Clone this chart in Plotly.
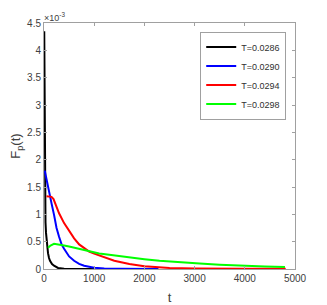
import plotly.graph_objects as go

# Data (values in units of 1e-3)
t_black = [5, 10, 15, 20, 25, 30, 40, 50, 60, 80, 100, 120, 160, 200, 280, 400, 600, 800, 1000]
v_black = [4.35, 3.3, 2.2, 1.5, 1.0, 0.85, 0.66, 0.52, 0.42, 0.29, 0.2, 0.15, 0.09, 0.06, 0.02, 0.006, 0.001, 0.0, 0.0]

t_blue = [15, 50, 100, 150, 200, 250, 300, 350, 400, 500, 600, 700, 800, 900, 1000, 1200, 1500, 2280]
v_blue = [1.80, 1.66, 1.42, 1.2, 0.99, 0.75, 0.59, 0.45, 0.37, 0.23, 0.15, 0.095, 0.06, 0.035, 0.022, 0.01, 0.003, 0.0]

t_red = [50, 100, 150, 190, 250, 300, 400, 500, 600, 700, 800, 900, 1000, 1200, 1400, 1700, 2000, 2500, 3000, 4000, 4815]
v_red = [1.33, 1.33, 1.32, 1.28, 1.13, 1.02, 0.84, 0.69, 0.56, 0.45, 0.38, 0.32, 0.28, 0.21, 0.15, 0.09, 0.05, 0.02, 0.01, 0.005, 0.003]

t_green = [80, 130, 200, 300, 400, 500, 700, 900, 1100, 1300, 1600, 2000, 2300, 2700, 3100, 3500, 4000, 4400, 4800]
v_green = [0.39, 0.43, 0.46, 0.45, 0.43, 0.41, 0.37, 0.32, 0.285, 0.26, 0.22, 0.18, 0.15, 0.12, 0.10, 0.08, 0.057, 0.045, 0.037]

series = [
    ("T=0.0286", t_black, v_black, "#000000"),
    ("T=0.0290", t_blue, v_blue, "#0000ff"),
    ("T=0.0294", t_red, v_red, "#ff0000"),
    ("T=0.0298", t_green, v_green, "#00ff00"),
]

x_ticks = [0, 1000, 2000, 3000, 4000, 5000]
y_ticks = [0, 0.5, 1, 1.5, 2, 2.5, 3, 3.5, 4, 4.5]
y_ticklabels = ["0", "0.5", "1", "1.5", "2", "2.5", "3", "3.5", "4", "4.5"]

fig = go.Figure()
for name, t, v, c in series:
    fig.add_trace(go.Scatter(x=t, y=v, mode="lines", name=name,
                             line=dict(color=c, width=2)))

axis_common = dict(showgrid=False, zeroline=False, showline=True, linecolor="#a0a0a0",
                   linewidth=1, mirror="ticks", ticks="inside", ticklen=3,
                   tickcolor="#a0a0a0", tickfont=dict(size=10, color="#404040"),
                   automargin=False)

# page body has an 8px margin, so the figure is sized to fit the 327x305 window
fig.update_layout(
    width=319, height=297,
    margin=dict(l=36, r=32, t=15, b=36),
    paper_bgcolor="white", plot_bgcolor="white",
    font=dict(family="Liberation Sans, Arial", color="#404040"),
    showlegend=True,
    legend=dict(x=0.965, y=0.965, xanchor="right", yanchor="top",
                bgcolor="white", bordercolor="#a0a0a0", borderwidth=1,
                font=dict(size=9, color="#303030"), tracegroupgap=0,
                itemwidth=30),
)
fig.update_xaxes(range=[0, 5000], tickvals=x_ticks, **axis_common,
                 title=dict(text="t", font=dict(size=13, color="#404040"), standoff=9))
fig.update_yaxes(range=[0, 4.5], tickvals=y_ticks, ticktext=y_ticklabels, **axis_common,
                 title=dict(text="F<sub>p</sub>(t)", font=dict(size=13, color="#404040"), standoff=4))

fig.add_annotation(x=0, y=1, xref="paper", yref="paper", xanchor="left", yanchor="bottom",
                   text="×10<sup>-3</sup>", showarrow=False,
                   font=dict(size=9, color="#404040"), xshift=-2, yshift=-2)

fig.write_html("out.html")
